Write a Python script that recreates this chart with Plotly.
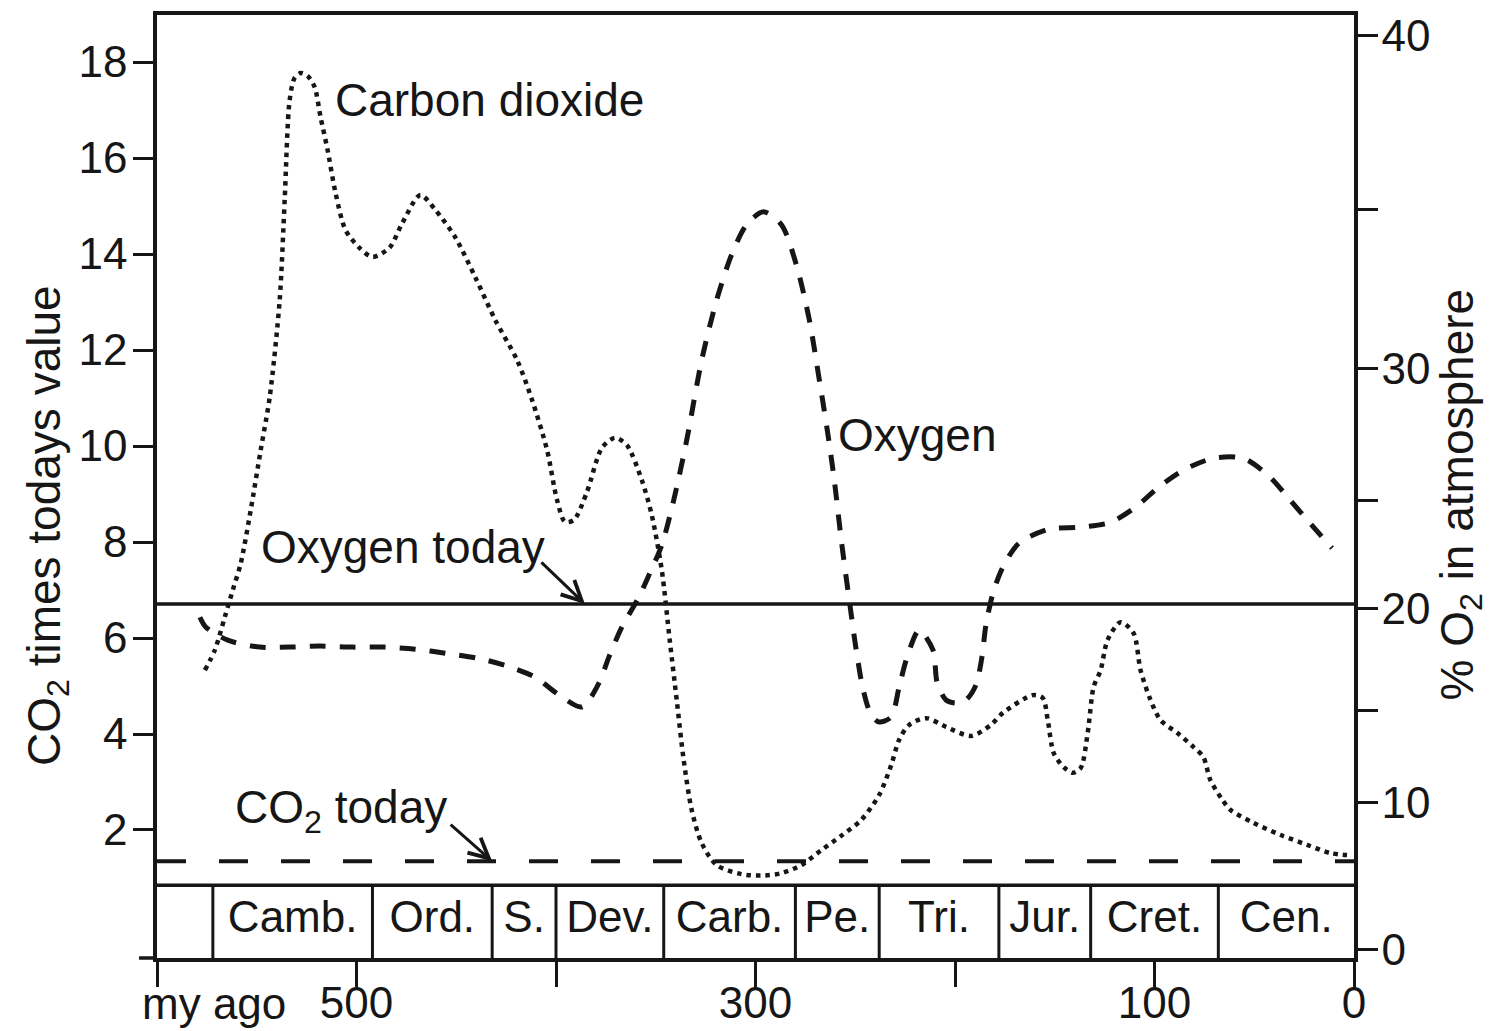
import numpy as np
import plotly.graph_objects as go

# ---------------- data (ages in million years ago) ----------------
co2_age = [576, 571, 566, 562, 558, 553, 548, 543.5, 538.5, 536, 533.5, 531, 528, 524.5,
           521, 518, 514.5, 510.5, 505.5, 498.5, 492, 483.5, 477, 468, 460.5, 450.5, 440.5,
           430.5, 419.5, 412, 404.5, 399.5, 395.5, 391, 384.5, 377, 370.5, 364.5, 357, 352,
           347, 343, 339.5, 336, 332, 327, 319.5, 307, 297, 287, 277, 267, 257, 247, 238,
           232, 228, 223, 214.5, 204.5, 192, 182, 176, 161, 156, 153.5, 150.5, 145.5, 141,
           137, 133.5, 130.5, 127, 123.5, 117, 110.5, 107, 102, 97, 88.5, 80.5, 75.5, 72,
           66, 62, 50.5, 37, 23.5, 12, 3.5]
co2_val = [5.33, 5.75, 6.44, 7.0, 7.56, 8.67, 9.92, 11.02, 13.04, 15.13, 17.21, 17.67, 17.77,
           17.71, 17.48, 16.85, 16.17, 15.27, 14.5, 14.13, 13.94, 14.13, 14.65, 15.23, 14.92,
           14.35, 13.52, 12.63, 11.79, 10.96, 9.92, 8.88, 8.42, 8.46, 9.04, 9.96, 10.17, 10.02,
           9.29, 8.56, 7.42, 5.96, 4.71, 3.46, 2.42, 1.73, 1.27, 1.08, 1.05, 1.10, 1.27, 1.58,
           1.88, 2.21, 2.73, 3.35, 3.88, 4.19, 4.33, 4.15, 3.96, 4.19, 4.44, 4.81, 4.75, 4.29,
           3.6, 3.31, 3.19, 3.29, 4.02, 4.98, 5.33, 5.96, 6.33, 6.1, 5.33, 4.71, 4.29, 4.02,
           3.73, 3.52, 3.04, 2.63, 2.42, 2.15, 1.9, 1.69, 1.52, 1.48]

o2_age = [578.5, 575.5, 564.5, 548.5, 533.5, 518, 502, 486, 470.5, 455.5, 439.5, 424.5, 410.5,
          398.5, 387, 378.5, 373.5, 367, 358.5, 353, 347, 341, 334.5, 327, 319.5, 312, 304.5,
          296, 287, 279.5, 273, 268, 264, 260.5, 257, 253, 249.5, 246, 242, 238, 232, 228,
          224, 218, 211, 209, 204.5, 199.5, 194.5, 189.5, 186.5, 184.5, 181, 176, 168, 153,
          137, 122, 109.5, 98, 85.5, 70.5, 55.5, 42, 32, 22, 11]
o2_pct = [19.56, 19.07, 18.43, 18.09, 18.09, 18.14, 18.09, 18.09, 17.99, 17.79, 17.55, 17.16,
          16.62, 15.74, 15.15, 16.32, 17.6, 19.07, 20.51, 21.62, 22.92, 25.0, 27.27, 30.25,
          32.15, 33.58, 34.53, 34.94, 34.53, 33.26, 31.52, 29.55, 27.65, 25.76, 23.15, 20.37,
          17.94, 15.98, 14.73, 14.35, 14.62, 16.13, 17.6, 18.92, 17.94, 16.37, 15.49, 15.34,
          15.49, 16.23, 17.6, 19.17, 20.69, 21.9, 23.01, 23.66, 23.75, 23.98, 24.68, 25.49,
          26.14, 26.59, 26.59, 25.87, 25.0, 23.94, 22.78]

co2_today = 1.35      # CO2 "today" reference line (times today's value, as drawn)
o2_today = 20.2       # O2 "today" reference line (%)

# geological periods
period_bounds = [600, 572, 492, 432, 400, 346, 280, 238, 178, 132, 68, 0]
period_labels = ["", "Camb.", "Ord.", "S.", "Dev.", "Carb.", "Pe.", "Tri.", "Jur.", "Cret.", "Cen."]

# axis ticks
x_tickvals = [600, 500, 400, 300, 200, 100, 0]
x_ticktext = ["", "500", "", "300", "", "100", "0"]
co2_ticks = [2, 4, 6, 8, 10, 12, 14, 16, 18]
# the hand-drawn right (% O2) axis is not evenly spaced: tick value -> height on left scale
o2_axis_pct = [0, 10, 15, 20, 25, 30, 35, 40]
o2_axis_pos = [-0.5, 2.58, 4.5, 6.62, 8.87, 11.62, 14.92, 18.56]
o2_axis_text = ["0", "10", "", "20", "", "30", "", "40"]

# ---------------- figure ----------------
INK = "#161616"
FONT = "Liberation Sans, Arial, Helvetica, sans-serif"
Y_RANGE = [-0.667, 18.98]
BAND_TOP = 0.85


def o2_scale(p):
    return np.interp(p, o2_axis_pct, o2_axis_pos)


fig = go.Figure()

fig.add_trace(go.Scatter(
    x=co2_age, y=co2_val, mode="lines", line=dict(color=INK, width=4.5, dash="4.5px,5px",
                                                    shape="spline", smoothing=0.8),
    showlegend=False, hoverinfo="skip"))

fig.add_trace(go.Scatter(
    x=o2_age, y=o2_scale(o2_pct), yaxis="y2", mode="lines",
    line=dict(color=INK, width=5, dash="16px,14px", shape="spline", smoothing=0.8),
    showlegend=False, hoverinfo="skip"))

# today reference lines
fig.add_trace(go.Scatter(
    x=[period_bounds[0], period_bounds[-1]], y=o2_scale([o2_today, o2_today]), yaxis="y2",
    mode="lines", line=dict(color=INK, width=3.5), showlegend=False, hoverinfo="skip"))
fig.add_trace(go.Scatter(
    x=[period_bounds[0], period_bounds[-1]], y=[co2_today, co2_today],
    mode="lines", line=dict(color=INK, width=4, dash="29px,33px"),
    showlegend=False, hoverinfo="skip"))

# period band
shapes = [dict(type="line", xref="x", yref="y", x0=period_bounds[0], x1=period_bounds[-1],
               y0=BAND_TOP, y1=BAND_TOP, line=dict(color=INK, width=3.5))]
for b in period_bounds[1:-1]:
    shapes.append(dict(type="line", xref="x", yref="y", x0=b, x1=b, y0=Y_RANGE[0], y1=BAND_TOP,
                       line=dict(color=INK, width=3)))
shapes.append(dict(type="line", xref="paper", yref="paper", x0=-0.015, x1=0, y0=0, y1=0,
                   line=dict(color=INK, width=3.5)))

mids = [(a + b) / 2 for a, b in zip(period_bounds[:-1], period_bounds[1:])]
fig.add_trace(go.Scatter(
    x=mids, y=[0.1] * len(mids), mode="text", text=period_labels,
    textfont=dict(family=FONT, size=44, color=INK), textposition="middle center",
    showlegend=False, hoverinfo="skip"))

ann = []
txt = dict(family=FONT, size=46, color=INK)
ann.append(dict(x=512, y=17.2, xref="x", yref="y", text="Carbon dioxide", showarrow=False,
                xanchor="left", yanchor="middle", font=txt))
ann.append(dict(x=259.5, y=10.23, xref="x", yref="y", text="Oxygen", showarrow=False,
                xanchor="left", yanchor="middle", font=txt))
ann.append(dict(x=549, y=7.9, xref="x", yref="y", text="Oxygen today", showarrow=False,
                xanchor="left", yanchor="middle", font=txt))
ann.append(dict(x=562, y=2.4, xref="x", yref="y", text="CO<sub>2</sub> today", showarrow=False,
                xanchor="left", yanchor="middle", font=txt))
# arrows
ann.append(dict(x=385.5, y=float(o2_scale(o2_today)), xref="x", yref="y", text="",
                showarrow=True, ax=-45, ay=-43, arrowhead=5, arrowsize=1.3, arrowwidth=3,
                arrowcolor=INK))
ann.append(dict(x=432, y=co2_today, xref="x", yref="y", text="",
                showarrow=True, ax=-43, ay=-38, arrowhead=5, arrowsize=1.3, arrowwidth=3,
                arrowcolor=INK))
# axis titles / labels
ann.append(dict(x=-0.092, y=0.459, xref="paper", yref="paper",
                text="CO<sub>2</sub> times todays value", textangle=-90, showarrow=False,
                xanchor="center", yanchor="middle", font=txt))
ann.append(dict(x=1.089, y=0.491, xref="paper", yref="paper",
                text="% O<sub>2</sub> in atmosphere", textangle=-90, showarrow=False,
                xanchor="center", yanchor="middle", font=txt))
ann.append(dict(x=-0.0142, y=-0.048, xref="paper", yref="paper", text="my ago", showarrow=False,
                xanchor="left", yanchor="middle", font=dict(family=FONT, size=44, color=INK)))

axis_common = dict(showgrid=False, zeroline=False, showline=True, linecolor=INK, linewidth=3.5,
                   ticks="outside", tickcolor=INK, tickwidth=3, automargin=False,
                   tickfont=dict(family=FONT, size=44, color=INK))

fig.update_layout(
    width=1493, height=1031, autosize=False,
    margin=dict(l=157, r=139, t=15, b=73),
    paper_bgcolor="white", plot_bgcolor="white",
    xaxis=dict(range=[600, 0], tickvals=x_tickvals, ticktext=x_ticktext, ticklen=25,
               ticklabelstandoff=-22, mirror=True, **axis_common),
    yaxis=dict(range=Y_RANGE, tickvals=co2_ticks, ticklen=20, ticklabelstandoff=-3,
               **axis_common),
    yaxis2=dict(range=Y_RANGE, overlaying="y", side="right", tickvals=o2_axis_pos,
                ticktext=o2_axis_text, ticklen=20, ticklabelstandoff=-5, **axis_common),
    shapes=shapes, annotations=ann,
)

fig.write_html("out.html", config={"displayModeBar": False},
               post_script="document.body.style.margin='0';")
